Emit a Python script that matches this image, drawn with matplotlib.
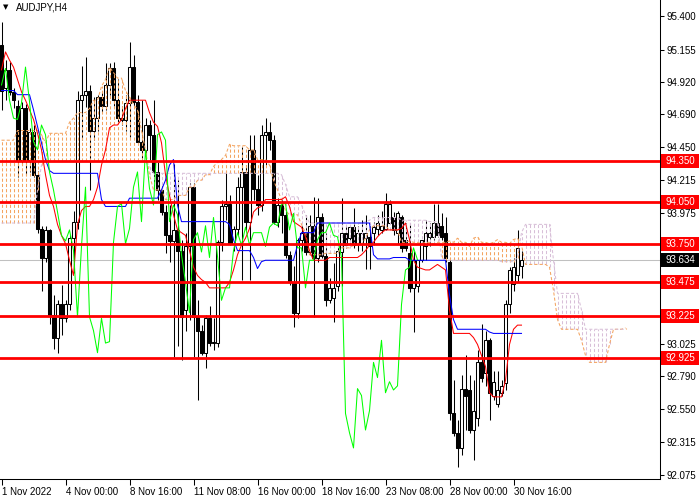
import numpy as np
import matplotlib
matplotlib.use('Agg')
import matplotlib.pyplot as plt
from matplotlib import transforms
from matplotlib.patches import Rectangle

# AUDJPY H4 bars, 1 Nov 08:00 .. 30 Nov 20:00 (prices)
opens = [95.19, 94.88, 95.01, 94.85, 94.75, 94.36, 94.73, 94.36, 94.56, 94.25,
         93.86, 93.65, 93.85, 93.23, 93.07, 93.31, 93.21, 93.31, 93.79, 93.91,
         94.79, 94.83, 94.86, 94.57, 94.66, 94.81, 94.75, 94.90, 95.02, 94.79,
         94.66, 94.65, 94.77, 95.03, 94.78, 94.49, 94.43, 94.61, 94.54, 94.27,
         94.14, 93.98, 93.81, 93.77, 93.85, 93.70, 93.27, 93.73, 94.16, 93.22,
         93.12, 92.96, 93.21, 93.03, 93.03, 93.76, 94.02, 94.04, 93.75, 93.86,
         94.16, 94.27, 93.91, 94.43, 94.15, 94.03, 94.54, 94.56, 94.50, 93.91,
         94.03, 93.96, 93.67, 93.47, 93.25, 93.78, 93.83, 93.69, 93.88, 93.65,
         93.94, 93.66, 93.34, 93.36, 93.44, 93.69, 93.83, 93.79, 93.87, 93.75,
         93.75, 93.79, 93.80, 93.83, 93.86, 93.85, 93.86, 93.90, 93.94, 93.83,
         93.94, 93.78, 93.68, 93.43, 93.44, 93.63, 93.73, 93.80, 93.80, 93.90,
         93.88, 93.83, 93.62, 92.52, 92.38, 92.27, 92.70, 92.69, 92.40, 92.49,
         92.89, 92.81, 93.05, 92.65, 92.59, 92.67, 92.74, 93.31, 93.46, 93.52,
         93.59]
highs = [95.36, 95.08, 95.07, 94.88, 94.79, 94.78, 94.76, 94.59, 94.61, 94.28,
         93.88, 93.88, 93.86, 93.38, 93.34, 93.45, 93.34, 93.81, 93.99, 94.86,
         95.04, 95.10, 94.90, 94.81, 94.83, 94.86, 95.06, 95.06, 95.07, 94.94,
         94.75, 94.83, 95.21, 95.12, 94.83, 94.79, 94.66, 94.65, 94.79, 94.34,
         94.17, 94.03, 94.03, 94.33, 94.21, 93.78, 93.83, 94.19, 94.19, 93.34,
         93.16, 93.23, 93.30, 93.21, 93.78, 94.07, 94.28, 94.10, 93.88, 94.23,
         94.45, 94.32, 94.54, 94.54, 94.25, 94.61, 94.66, 94.63, 94.54, 94.08,
         94.08, 93.99, 93.70, 93.59, 93.79, 93.88, 93.96, 93.96, 94.09, 94.08,
         93.97, 93.83, 93.50, 93.61, 93.74, 94.08, 93.88, 93.88, 94.01, 93.88,
         93.92, 93.96, 93.88, 93.91, 93.96, 93.99, 94.12, 94.07, 93.98, 93.99,
         93.96, 93.90, 93.90, 93.70, 93.63, 93.78, 93.92, 93.90, 94.04, 94.04,
         93.97, 93.94, 93.65, 92.76, 92.47, 92.80, 92.94, 92.80, 92.76, 92.98,
         93.17, 93.12, 93.07, 92.83, 92.83, 92.76, 93.34, 93.58, 93.65, 93.85,
         93.70]
lows = [94.72, 94.79, 94.83, 94.73, 94.23, 94.32, 94.25, 94.27, 94.23, 93.83,
        93.41, 93.62, 93.17, 92.99, 92.96, 93.09, 93.18, 93.27, 93.54, 93.86,
        94.50, 94.74, 94.14, 94.50, 94.57, 94.70, 94.72, 94.83, 94.75, 94.63,
        94.61, 94.57, 94.52, 94.75, 94.47, 94.37, 94.39, 94.36, 94.15, 94.07,
        93.96, 93.68, 93.62, 92.93, 93.01, 92.91, 93.12, 93.20, 92.93, 92.62,
        92.94, 92.85, 93.01, 92.98, 93.00, 93.70, 93.92, 93.74, 93.70, 93.81,
        93.49, 93.85, 93.49, 94.07, 93.96, 93.99, 94.32, 94.43, 93.89, 93.87,
        93.83, 93.65, 93.45, 93.15, 93.21, 93.70, 93.67, 93.67, 93.22, 93.62,
        93.65, 93.30, 93.32, 93.18, 93.41, 93.44, 93.72, 93.74, 93.72, 93.70,
        93.70, 93.57, 93.57, 93.74, 93.81, 93.83, 93.85, 93.89, 93.81, 93.75,
        93.69, 93.70, 93.40, 93.11, 93.40, 93.62, 93.63, 93.73, 93.78, 93.80,
        93.78, 93.62, 92.47, 92.36, 92.13, 92.22, 92.40, 92.38, 92.18, 92.43,
        92.75, 92.72, 92.47, 92.62, 92.57, 92.65, 92.69, 93.25, 93.41, 93.47,
        93.50]
closes = [94.86, 95.01, 94.85, 94.79, 94.36, 94.73, 94.36, 94.56, 94.25, 93.86,
          93.65, 93.85, 93.23, 93.07, 93.31, 93.21, 93.31, 93.79, 93.91, 94.79,
          94.83, 94.86, 94.57, 94.66, 94.81, 94.75, 94.90, 95.02, 94.79, 94.66,
          94.65, 94.77, 95.03, 94.78, 94.49, 94.43, 94.61, 94.54, 94.27, 94.14,
          93.98, 93.81, 93.77, 93.85, 93.70, 93.22, 93.73, 94.16, 93.22, 93.12,
          92.96, 93.21, 93.03, 93.04, 93.76, 94.02, 94.04, 93.75, 93.86, 94.16,
          94.27, 93.91, 94.43, 94.15, 94.03, 94.54, 94.56, 94.50, 93.91, 94.03,
          93.96, 93.67, 93.47, 93.25, 93.78, 93.83, 93.69, 93.88, 93.65, 93.94,
          93.66, 93.34, 93.43, 93.43, 93.70, 93.83, 93.74, 93.87, 93.74, 93.83,
          93.83, 93.83, 93.73, 93.87, 93.90, 93.88, 94.04, 94.04, 93.85, 93.97,
          93.72, 93.72, 93.43, 93.63, 93.63, 93.78, 93.83, 93.83, 93.90, 93.81,
          93.80, 93.65, 92.52, 92.38, 92.27, 92.70, 92.65, 92.40, 92.54, 92.89,
          92.78, 93.05, 92.67, 92.75, 92.69, 92.72, 93.31, 93.56, 93.58, 93.72,
          93.634]

# Ichimoku lines
tenkan = [95.01, 95.14, 95.08, 95.03, 94.94, 94.85, 94.79, 94.72, 94.65, 94.55,
          94.43, 94.25, 94.10, 94.02, 93.89, 93.81, 93.75, 93.63, 93.52, 93.89,
          93.99, 94.02, 94.02, 94.07, 94.16, 94.32, 94.43, 94.59, 94.61, 94.61,
          94.65, 94.73, 94.79, 94.79, 94.79, 94.79, 94.79, 94.70, 94.63, 94.60,
          94.48, 94.25, 94.10, 93.96, 93.85, 93.83, 93.81, 93.70, 93.58, 93.52,
          93.49, 93.47, 93.43, 93.43, 93.43, 93.43, 93.43, 93.47, 93.56, 93.67,
          93.74, 93.79, 93.86, 93.98, 94.01, 94.02, 94.07, 94.07, 94.07, 94.07,
          94.07, 94.09, 94.02, 93.91, 93.89, 93.87, 93.80, 93.70, 93.63, 93.63,
          93.63, 93.63, 93.65, 93.65, 93.65, 93.65, 93.65, 93.65, 93.65, 93.65,
          93.67, 93.70, 93.74, 93.76, 93.80, 93.83, 93.85, 93.85, 93.85, 93.85,
          93.86, 93.90, 93.78, 93.63, 93.58, 93.57, 93.56, 93.56, 93.58, 93.60,
          93.58, 93.56, 93.27, 93.10, 93.10, 93.10, 93.10, 93.10, 93.07, 93.02,
          92.94, 92.86, 92.67, 92.64, 92.64, 92.64, 92.76, 93.02, 93.13, 93.16,
          93.16]
kijun = [94.86, 94.86, 94.86, 94.86, 94.83, 94.83, 94.83, 94.83, 94.72, 94.60,
         94.48, 94.36, 94.28, 94.26, 94.26, 94.26, 94.26, 94.26, 94.26, 94.26,
         94.26, 94.26, 94.26, 94.26, 94.26, 94.07, 94.02, 94.02, 94.02, 94.02,
         94.02, 94.02, 94.08, 94.08, 94.08, 94.08, 94.08, 94.08, 94.08, 94.08,
         94.14, 94.21, 94.32, 94.36, 94.03, 93.91, 93.91, 93.91, 93.91, 93.91,
         93.91, 93.91, 93.91, 93.91, 93.91, 93.91, 93.91, 93.89, 93.78, 93.70,
         93.70, 93.70, 93.70, 93.65, 93.57, 93.62, 93.63, 93.63, 93.63, 93.63,
         93.63, 93.63, 93.63, 93.63, 93.74, 93.83, 93.83, 93.83, 93.83, 93.90,
         93.90, 93.90, 93.90, 93.90, 93.90, 93.90, 93.90, 93.90, 93.90, 93.90,
         93.90, 93.90, 93.90, 93.67, 93.64, 93.64, 93.64, 93.64, 93.65, 93.65,
         93.65, 93.65, 93.63, 93.63, 93.63, 93.63, 93.63, 93.63, 93.63, 93.63,
         93.63, 93.63, 93.38, 93.20, 93.13, 93.13, 93.13, 93.13, 93.13, 93.13,
         93.13, 93.13, 93.11, 93.10, 93.10, 93.10, 93.10, 93.10, 93.10, 93.10,
         93.10]
# Senkou spans, shifted 26 bars ahead of the last candle
span_a = [94.50, 94.50, 94.50, 94.50, 94.57, 94.57, 94.57, 94.57, 94.57, 94.57,
          94.54, 94.48, 94.55, 94.55, 94.55, 94.55, 94.55, 94.63, 94.66, 94.70,
          94.70, 94.70, 94.73, 94.79, 94.79, 94.89, 94.94, 95.03, 94.99, 94.95,
          94.95, 94.86, 94.81, 94.76, 94.72, 94.57, 94.43, 94.25, 94.14, 94.14,
          94.14, 94.07, 94.07, 94.07, 94.10, 94.10, 94.10, 94.16, 94.16, 94.21,
          94.21, 94.25, 94.25, 94.31, 94.34, 94.36, 94.39, 94.47, 94.46, 94.46,
          94.46, 94.46, 94.43, 94.43, 94.36, 94.36, 94.36, 94.32, 94.21, 94.14,
          94.07, 93.99, 93.96, 93.96, 93.96, 93.89, 93.83, 93.67, 93.67, 93.67,
          93.67, 93.68, 93.68, 93.68, 93.68, 93.72, 93.72, 93.72, 93.74, 93.74,
          93.74, 93.79, 93.85, 93.88, 93.88, 93.88, 93.88, 93.85, 93.85, 93.85,
          93.76, 93.76, 93.77, 93.76, 93.76, 93.75, 93.76, 93.76, 93.75, 93.76,
          93.76, 93.76, 93.77, 93.76, 93.79, 93.76, 93.76, 93.73, 93.79, 93.80,
          93.76, 93.76, 93.75, 93.76, 93.78, 93.76, 93.76, 93.75, 93.78, 93.79,
          93.74, 93.60, 93.60, 93.60, 93.60, 93.60, 93.60, 93.58, 93.41, 93.20,
          93.13, 93.13, 93.13, 93.13, 93.13, 93.05, 92.94, 92.89, 92.89, 92.89,
          92.89, 92.89, 93.02, 93.13, 93.13, 93.13, 93.14]
span_b = [93.90, 93.90, 93.90, 93.90, 93.90, 93.90, 93.90, 93.90, 93.90, 94.14,
          94.32, 94.35, 94.35, 94.35, 94.35, 94.35, 94.35, 94.35, 94.35, 94.35,
          94.35, 94.35, 94.35, 94.35, 94.35, 94.35, 94.35, 94.35, 94.35, 94.35,
          94.35, 94.35, 94.35, 94.35, 94.35, 94.35, 94.35, 94.31, 94.26, 94.26,
          94.26, 94.26, 94.26, 94.26, 94.26, 94.26, 94.26, 94.26, 94.26, 94.26,
          94.26, 94.26, 94.26, 94.26, 94.26, 94.26, 94.26, 94.26, 94.26, 94.26,
          94.26, 94.26, 94.26, 94.26, 94.26, 94.26, 94.26, 94.26, 94.26, 94.26,
          94.25, 94.18, 94.09, 94.09, 94.09, 94.03, 93.96, 93.90, 93.90, 93.90,
          93.90, 93.90, 93.90, 93.90, 93.90, 93.90, 93.90, 93.90, 93.90, 93.90,
          93.90, 93.91, 93.92, 93.94, 93.94, 93.94, 93.94, 93.94, 93.94, 93.94,
          93.92, 93.92, 93.92, 93.92, 93.92, 93.92, 93.92, 93.91, 93.91, 93.91,
          93.65, 93.63, 93.63, 93.63, 93.63, 93.63, 93.63, 93.63, 93.63, 93.63,
          93.63, 93.63, 93.63, 93.63, 93.63, 93.62, 93.62, 93.62, 93.62, 93.65,
          93.83, 93.89, 93.89, 93.89, 93.89, 93.89, 93.89, 93.89, 93.63, 93.39,
          93.39, 93.39, 93.39, 93.39, 93.39, 93.27, 93.13, 93.13, 93.13, 93.13,
          93.13, 93.13, 93.13, 93.13, 93.13, 93.13, 93.13]
chikou_shift = 26

levels = [94.350, 94.050, 93.750, 93.475, 93.225, 92.925]
last_price = 93.634

# scale marks; the ones sitting under a price tag get no label
yticks = [95.400, 95.155, 94.920, 94.690, 94.450, 94.215, 93.975, 93.740,
          93.505, 93.265, 93.025, 92.790, 92.550, 92.315, 92.075]
hidden_yticks = [93.740, 93.505, 93.265]
xtick_bars = [0, 16, 32, 48, 64, 80, 96, 112, 128]
xtick_labels = ['1 Nov 2022', '4 Nov 00:00', '8 Nov 16:00', '11 Nov 08:00',
                '16 Nov 00:00', '18 Nov 16:00', '23 Nov 08:00', '28 Nov 00:00',
                '30 Nov 16:00']


def main():
    plt.rcParams['font.family'] = ['Liberation Sans', 'DejaVu Sans']

    o = np.array(opens)
    h = np.array(highs)
    l = np.array(lows)
    c = np.array(closes)
    n = len(c)
    x = np.arange(n)

    fig = plt.figure(figsize=(7, 5), dpi=100)
    ax = fig.add_axes([0, 21 / 500, 660 / 700, 479 / 500])
    ax.set_xlim(-0.375, 164.625)
    ax.set_ylim(92.045, 95.516)

    # current price line
    ax.axhline(last_price, color='#c0c0c0', lw=0.75, zorder=1)

    # candles
    up = c >= o
    ax.vlines(x, l, h, color='black', lw=0.75, zorder=2)
    bottom = np.minimum(o, c)
    height = np.abs(c - o)
    ax.bar(x[up], height[up], bottom=bottom[up], width=0.55,
           color='white', edgecolor='black', linewidth=0.75, zorder=2.2)
    ax.bar(x[~up], height[~up], bottom=bottom[~up], width=0.55,
           color='black', edgecolor='black', linewidth=0.75, zorder=2.2)

    # kumo, dotted histogram between the spans
    a = np.array(span_a)
    b = np.array(span_b)
    xc = np.arange(len(a))
    bull = a >= b
    dots = [(0, (3, 2))]
    ax.vlines(xc[bull], b[bull], a[bull], colors='#f4a460', lw=0.75,
              linestyles=dots, zorder=3)
    ax.vlines(xc[~bull], a[~bull], b[~bull], colors='#d8bfd8', lw=0.75,
              linestyles=dots, zorder=3)
    ax.plot(xc, a, color='#f4a460', lw=0.75, ls=(0, (3, 2)), zorder=3)
    ax.plot(xc, b, color='#d8bfd8', lw=0.75, ls=(0, (3, 2)), zorder=3)

    # tenkan / kijun / chikou
    ax.plot(x, tenkan, color='#ff0000', lw=0.75, zorder=4)
    ax.plot(x, kijun, color='#0000ff', lw=0.75, zorder=4)
    ax.plot(x[:n - chikou_shift], c[chikou_shift:], color='#00ff00', lw=0.75, zorder=4)

    # support / resistance levels
    for lvl in levels:
        ax.axhline(lvl, color='#ff0000', lw=2, zorder=5)

    # axes look
    for side in ['top', 'left']:
        ax.spines[side].set_visible(False)
    for side in ['right', 'bottom']:
        ax.spines[side].set_linewidth(0.75)
    ax.yaxis.tick_right()
    ax.set_yticks(yticks)
    ax.set_yticklabels(['' if v in hidden_yticks else '%.3f' % v for v in yticks])
    ax.tick_params(axis='y', direction='out', length=3, width=0.75, pad=2, labelsize=7)
    ax.set_xticks(xtick_bars)
    ax.set_xticklabels(xtick_labels, ha='left')
    ax.tick_params(axis='x', direction='out', length=4, width=0.75, pad=2, labelsize=7)

    # price tags on the right scale
    trans = transforms.blended_transform_factory(fig.transFigure, ax.transData)
    tags = [(lvl, '#ff0000') for lvl in levels] + [(last_price, '#000000')]
    for lvl, col in tags:
        ax.add_patch(Rectangle((661 / 700, lvl - 7 / 138), 38 / 700, 14 / 138,
                               transform=trans, facecolor=col, edgecolor='none',
                               clip_on=False, zorder=10))
        ax.text(680 / 700, lvl, '%.3f' % lvl, transform=trans, ha='center',
                va='center', color='white', fontsize=7, zorder=11, clip_on=False)

    # symbol caption
    fig.text(6 / 700, 1 - 7 / 500, '\u25bc', fontsize=5, family='DejaVu Sans',
             ha='center', va='center')
    fig.text(16 / 700, 1 - 8 / 500, 'AUDJPY,H4', fontsize=7, va='center')

    fig.savefig('out.png', dpi=100)


if __name__ == '__main__':
    main()
